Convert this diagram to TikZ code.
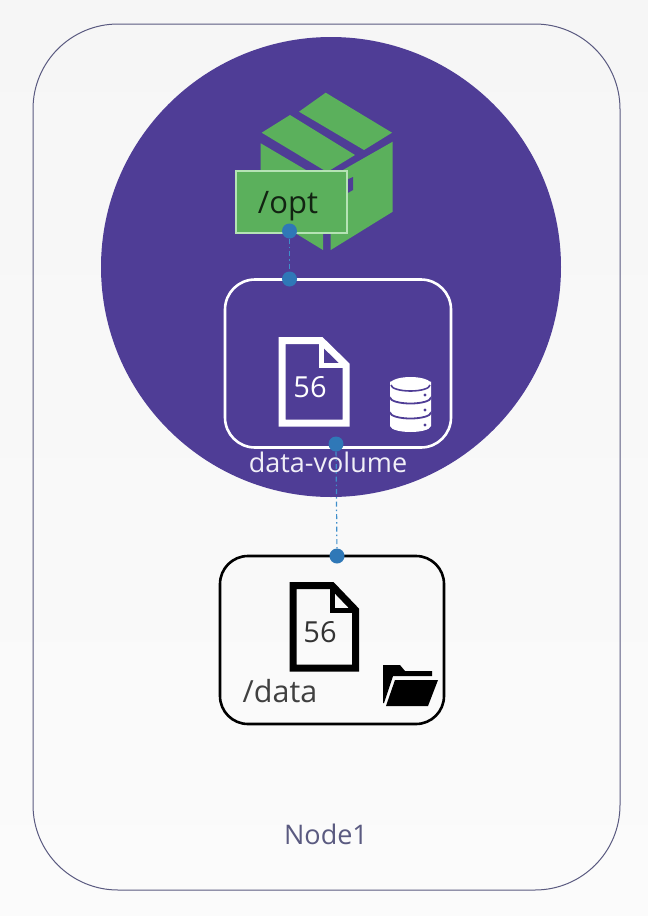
\documentclass[tikz,border=0pt]{standalone}
\usepackage{fontspec}
\setmainfont{Open Sans}
\definecolor{bgtop}{HTML}{F6F6F6}
\definecolor{bgbot}{HTML}{FBFBFB}
\definecolor{purp}{HTML}{4F3D96}
\definecolor{grn}{HTML}{5BB05C}
\definecolor{grnl}{HTML}{B5E3B5}
\definecolor{dotc}{HTML}{2F78B7}
\definecolor{dashc}{HTML}{3F8FCB}
\definecolor{nodec}{HTML}{5A5A80}
\tikzset{
  x=1pt,y=-1pt,
  nodebox/.style={draw=nodec,line width=1pt,rounded corners=85pt,minimum width=587pt,minimum height=866pt,inner sep=0pt,fill=none},
  podcircle/.style={circle,fill=purp,draw=none,minimum size=460pt,inner sep=0pt},
  volbox/.style={draw=white,line width=2.6pt,rounded corners=30pt,minimum width=226pt,minimum height=168pt,inner sep=0pt},
  hostbox/.style={draw=black,line width=2.6pt,rounded corners=28pt,minimum width=224pt,minimum height=168pt,inner sep=0pt},
  optbox/.style={draw=grnl,line width=1.6pt,fill=grn,minimum width=111pt,minimum height=62pt,inner sep=0pt},
  port/.style={circle,fill=dotc,draw=none,minimum size=15pt,inner sep=0pt},
  link/.style={draw=dashc,line width=1.2pt,dash pattern=on 5pt off 3pt on 1.5pt off 3pt},
  lab/.style={inner sep=0pt,font=\fontsize{#1}{#1}\selectfont},
  filestroke/.style={line width=7pt,miter limit=10,line join=miter},
}
\begin{document}
\begin{tikzpicture}
\useasboundingbox (0,0) rectangle (648,916);
\shade[top color=bgtop,bottom color=bgbot] (0,0) rectangle (648,916);
\node[nodebox] (worker) at (326.5,457) {};
\node[podcircle] (pod) at (331,267) {};
% package icon
\fill[grn] (325.7,92.7) -- (392,132.7) -- (364,150) -- (299,111.7) -- cycle;
\fill[grn] (290,115) -- (355,155) -- (327,172) -- (261.7,132.7) -- cycle;
\fill[grn] (260.7,143.3) -- (323,180) -- (323,250) -- (260.7,212) -- cycle;
\fill[grn] (392.7,141.7) -- (392.7,211.7) -- (330.7,250) -- (330.7,177) -- cycle;
\fill[purp] (346,180) -- (353,177) -- (353,190) -- (346,194) -- cycle;
\node[optbox] (opt) at (291.2,201.7) {};
\node[lab=31,text=black!80!grn] (opttxt) at (288,206.5) {/opt};
% volume
\node[volbox] (vol) at (338,363.5) {};
\draw[white,filestroke] (282,340.5) -- (321,340.5) -- (346,365) -- (346,423) -- (282,423) -- cycle;
\draw[white,line width=5pt] (321,340.5) -- (321,365) -- (346,365);
\node[lab=29,text=white] (n56a) at (310,387) {56};
% database icon
\foreach \yy in {419.5,404.5,389.5}{
  \fill[white] (390,{\yy-8}) -- (390,{\yy+6.5}) arc[x radius=20.5,y radius=6,start angle=180,end angle=0] -- (431,{\yy-8}) -- cycle;
  \draw[purp,line width=1.8pt] (390,{\yy+8}) arc[x radius=20.5,y radius=6,start angle=180,end angle=0];
}
\fill[white] (410.5,384) ellipse[x radius=20.5,y radius=7];
\draw[purp,line width=1.6pt] (391,385) arc[x radius=19.5,y radius=6,start angle=180,end angle=0];
\foreach \yy in {395,410,425}{\fill[purp] (425,\yy) circle[radius=1.7];}
\node[lab=27,text=white!92!purp] (voltxt) at (328,462) {data-volume};
% host
\node[hostbox] (host) at (332,640) {};
\draw[black,filestroke] (293,585.5) -- (332,585.5) -- (355.5,610) -- (355.5,668) -- (293,668) -- cycle;
\draw[black,line width=5pt] (332,585.5) -- (332,610) -- (355.5,610);
\node[lab=29,text=black!80] (n56b) at (320,632) {56};
\node[lab=30.5,text=black!75] (datatxt) at (280,691) {/data};
% folder icon
\fill[black] (383,665) -- (400,665) -- (405,671) -- (432,671) -- (432,676) -- (393,676) -- (384,703) -- (383,703) -- cycle;
\fill[black] (395,680) -- (438,680) -- (428,706) -- (386,706) -- cycle;
\node[lab=27,text=nodec] (nodetxt) at (326,834) {Node1};
% ports and links
\node[port] (p1) at (289.5,231) {};
\node[port] (p2) at (289.5,279) {};
\node[port] (p3) at (336,444) {};
\node[port] (p4) at (337,556) {};
\draw[link] (p1) -- (p2);
\draw[link] (p3) -- (p4);
\end{tikzpicture}
\end{document}
